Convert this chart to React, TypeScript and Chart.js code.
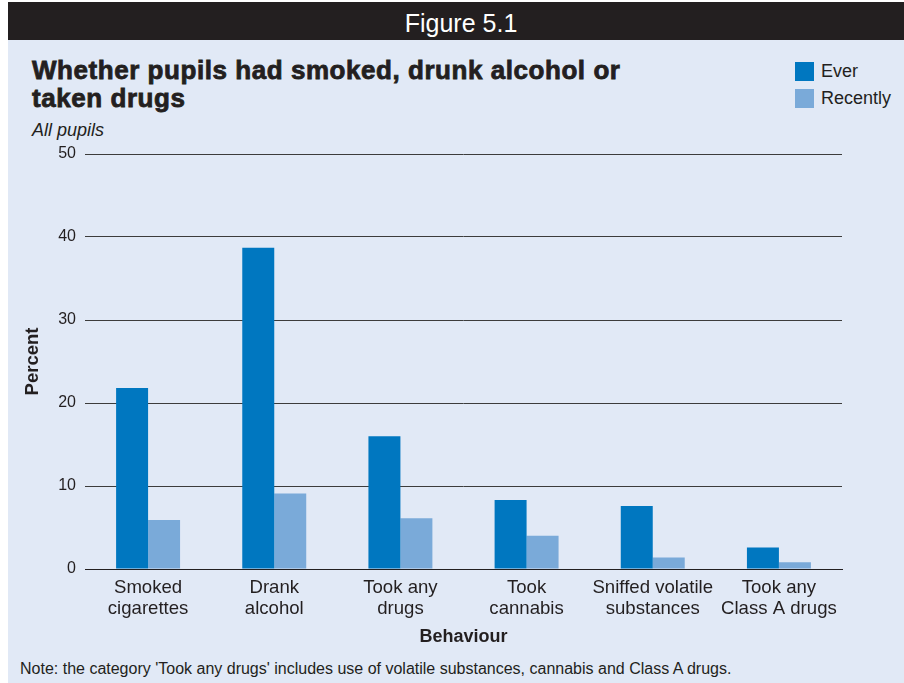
import React, { useEffect, useRef } from "react";
import { Chart, registerables } from "chart.js";
Chart.register(...registerables);

const categories: string[][] = [
  ["Smoked", "cigarettes"],
  ["Drank", "alcohol"],
  ["Took any", "drugs"],
  ["Took", "cannabis"],
  ["Sniffed volatile", "substances"],
  ["Took any", "Class A drugs"],
];
const everValues = [21.8, 38.7, 16.0, 8.3, 7.6, 2.6];
const recentlyValues = [5.9, 9.1, 6.1, 4.0, 1.4, 0.8];
const seriesNames = ["Ever", "Recently"];
const seriesColors = ["#0077c0", "#7aaad9"];
const yMin = 0;
const yMax = 50;
const yStep = 10;

const FONT = "'Liberation Sans', Arial, Helvetica, sans-serif";
const INK = "#231f20";

export default function App() {
  const ref = useRef<HTMLCanvasElement>(null);
  useEffect(() => {
    const chart = new Chart(ref.current!, {
      type: "bar",
      data: {
        labels: categories,
        datasets: [
          { label: seriesNames[0], data: everValues, backgroundColor: seriesColors[0], categoryPercentage: 0.507, barPercentage: 1 },
          { label: seriesNames[1], data: recentlyValues, backgroundColor: seriesColors[1], categoryPercentage: 0.507, barPercentage: 1 },
        ],
      },
      options: {
        animation: false,
        responsive: false,
        layout: { padding: { left: 0, right: 62, top: 14, bottom: 0 } },
        plugins: { legend: { display: false }, tooltip: { enabled: false } },
        scales: {
          x: {
            grid: { display: false },
            border: { color: INK, width: 1 },
            ticks: { font: { family: FONT, size: 18.6, lineHeight: 1.1 }, color: INK, padding: 1, maxRotation: 0, autoSkip: false },
            title: { display: true, text: "Behaviour", font: { family: FONT, size: 18, weight: "bold" }, color: INK, padding: { top: 0, bottom: 2 } },
            afterFit: (s: any) => { s.height = 81; s.paddingLeft = 0; s.paddingRight = 0; },
          },
          y: {
            min: yMin,
            max: yMax,
            ticks: { stepSize: yStep, font: { family: FONT, size: 16 }, color: INK, padding: 9 },
            grid: { color: "#3c3c3c", lineWidth: 1, drawTicks: false },
            border: { display: false },
            title: { display: true, text: "Percent", font: { family: FONT, size: 18.5, weight: "bold" }, color: INK, padding: { top: 14, bottom: 0 } },
            afterFit: (s: any) => { s.width = 77; s.paddingTop = 0; s.paddingBottom = 0; },
          },
        },
      },
    });
    return () => chart.destroy();
  }, []);

  return (
    <div style={{ position: "fixed", left: 0, top: 0, width: 904, height: 683, background: "#ffffff", fontFamily: FONT, color: INK, overflow: "hidden" }}>
      <div style={{ position: "absolute", left: 8, top: 2, width: 896, height: 38, background: INK }} />
      <div style={{ position: "absolute", left: 18, top: 10.5, width: 886, textAlign: "center", color: "#ffffff", fontSize: 25, lineHeight: "25px" }}>
        Figure 5.1
      </div>
      <div style={{ position: "absolute", left: 8, top: 40, width: 896, height: 643, background: "#e1e9f6" }} />
      <div style={{ position: "absolute", left: 32, top: 55.5, fontSize: 26, fontWeight: 700, lineHeight: "28px", letterSpacing: 0.55, WebkitTextStroke: "0.8px " + INK, whiteSpace: "nowrap" }}>
        Whether pupils had smoked, drunk alcohol or<br />taken drugs
      </div>
      <div style={{ position: "absolute", left: 32, top: 121, fontSize: 18, fontStyle: "italic", lineHeight: "18px" }}>All pupils</div>
      {seriesNames.map((n, i) => (
        <div key={n} style={{ position: "absolute", left: 795, top: 62 + i * 27, height: 19, display: "flex", alignItems: "center" }}>
          <div style={{ width: 19, height: 19, background: seriesColors[i] }} />
          <span style={{ marginLeft: 7, fontSize: 18, lineHeight: "19px" }}>{n}</span>
        </div>
      ))}
      <canvas ref={ref} width={896} height={510} style={{ position: "absolute", left: 8, top: 140, width: 896, height: 510, display: "block" }} />
      <div style={{ position: "absolute", left: 20, top: 659.5, fontSize: 16, lineHeight: "18px", whiteSpace: "nowrap" }}>
        Note: the category 'Took any drugs' includes use of volatile substances, cannabis and Class A drugs.
      </div>
    </div>
  );
}
